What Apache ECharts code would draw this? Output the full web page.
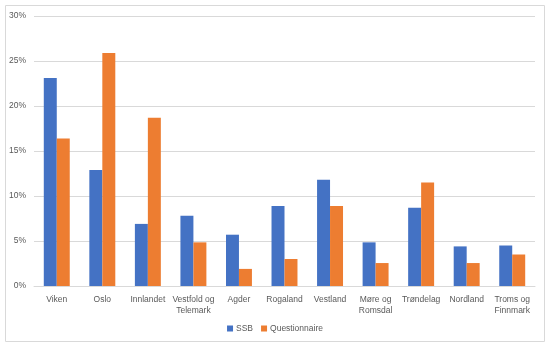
<!DOCTYPE html>
<html><head><meta charset="utf-8">
<script src="https://cdn.jsdelivr.net/npm/echarts@6/dist/echarts.min.js"></script>
<style>html,body{margin:0;padding:0;background:#fff}#c{width:550px;height:347px}</style>
</head><body><div id="c"></div>
<script>
const categories = ['Viken','Oslo','Innlandet','Vestfold og\nTelemark','Agder','Rogaland','Vestland','Møre og\nRomsdal','Trøndelag','Nordland','Troms og\nFinnmark'];
const ssb = [23.1, 12.9, 6.9, 7.8, 5.7, 8.9, 11.8, 4.85, 8.7, 4.4, 4.5];
const questionnaire = [16.4, 25.9, 18.7, 4.85, 1.9, 3.0, 8.9, 2.55, 11.5, 2.55, 3.5];
const yTicks = [0, 5, 10, 15, 20, 25, 30];

const font = 'Liberation Sans';
const chart = echarts.init(document.getElementById('c'), null, {renderer:'canvas'});
chart.setOption({
  animation: false,
  textStyle: {fontFamily: font},
  graphic: [{type:'rect', shape:{x:5.5,y:5.5,width:539,height:336}, style:{fill:'none', stroke:'#d9d9d9', lineWidth:1}, silent:true}],
  grid: {left:34, right:15, top:16, bottom:61},
  legend: {
    data: ['SSB','Questionnaire'], bottom: 9, left: 'center',
    icon: 'rect', itemWidth: 6, itemHeight: 6, itemGap: 8,
    textStyle: {fontFamily: font, fontSize: 8.5, color:'#595959', padding:[0,0,0,-2]}
  },
  xAxis: {
    type:'category', data: categories,
    axisLine:{lineStyle:{color:'#d9d9d9'}}, axisTick:{show:false},
    axisLabel:{fontFamily: font, fontSize:8.5, color:'#595959', interval:0, margin:8, lineHeight:11}
  },
  yAxis: {
    type:'value', min: yTicks[0], max: yTicks[yTicks.length-1], interval: 5,
    axisLine:{show:false}, axisTick:{show:false},
    splitLine:{lineStyle:{color:'#d9d9d9'}},
    axisLabel:{fontFamily: font, fontSize:8.5, color:'#595959', margin:8, formatter: v => v + '%'}
  },
  series: [
    {name:'SSB', type:'bar', data: ssb, itemStyle:{color:'#4472C4'}, barGap:'0%', barCategoryGap:'43%'},
    {name:'Questionnaire', type:'bar', data: questionnaire, itemStyle:{color:'#ED7D31'}}
  ]
});
</script></body></html>
